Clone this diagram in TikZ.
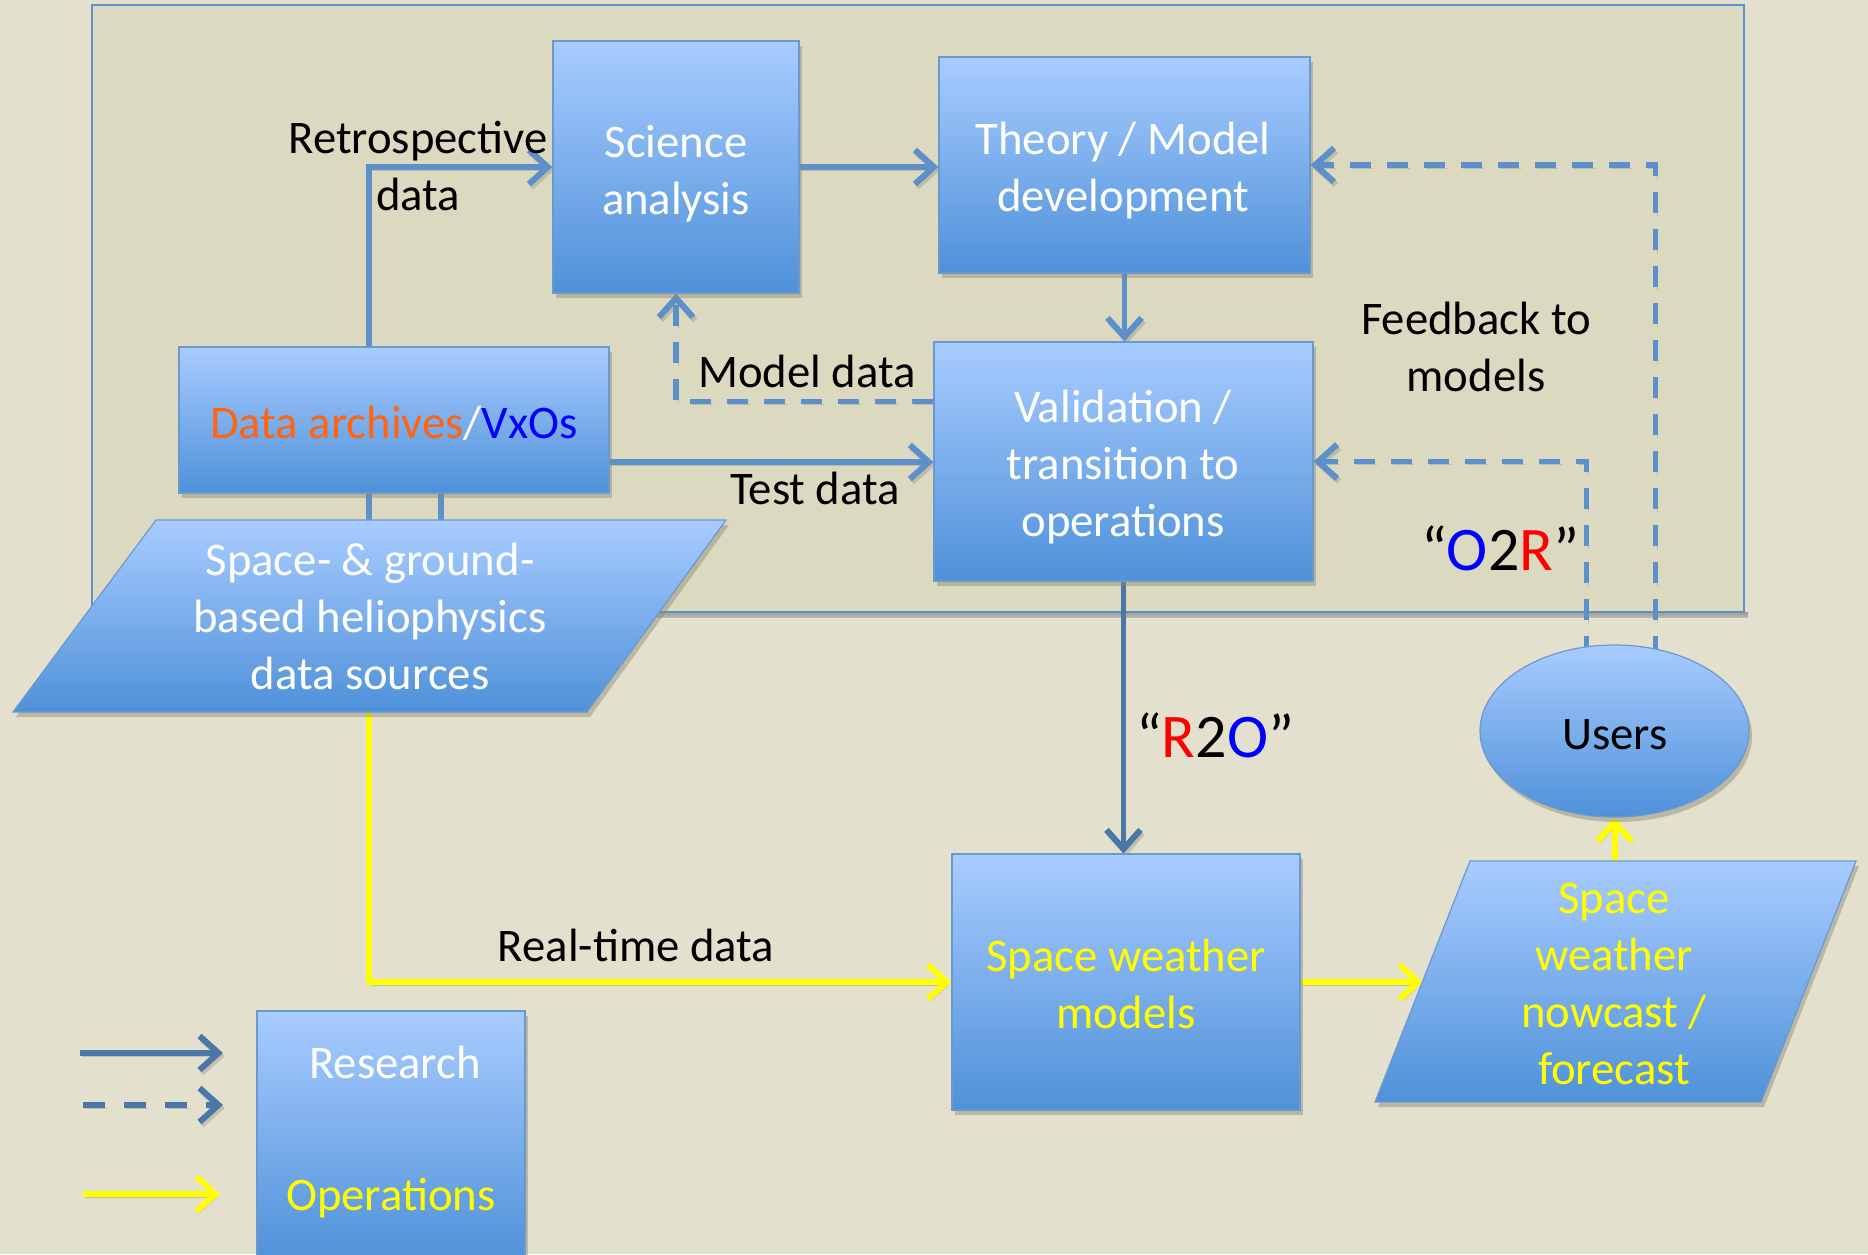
\documentclass[tikz,border=0pt]{standalone}
\usepackage{fontspec}
\setmainfont{Carlito}
\usetikzlibrary{arrows.meta,shapes.geometric}

\definecolor{bgout}{HTML}{E3E0CD}
\definecolor{panel}{HTML}{DBD9C0}
\definecolor{frame}{HTML}{5E90D0}
\definecolor{boxtop}{HTML}{A8CCFF}
\definecolor{boxbot}{HTML}{4F91D9}
\definecolor{boxline}{HTML}{6A99D2}
\definecolor{arrowblue}{HTML}{5D8FCA}
\definecolor{arrowdark}{HTML}{4A77A8}
\definecolor{opyellow}{HTML}{FFFF00}
\definecolor{archorange}{HTML}{FF6411}
\definecolor{vxoblue}{HTML}{0000FF}
\definecolor{rred}{HTML}{FF0000}
\definecolor{shade}{HTML}{8A8770}

\pgfdeclarelayer{back}
\pgfdeclarelayer{wires}
\pgfsetlayers{back,wires,main}

\tikzset{
  softshadow/.style={preaction={fill=shade, fill opacity=0.45, transform canvas={xshift=3pt,yshift=-5pt}}},
  wireshadow/.style={preaction={draw=shade, draw opacity=0.35, transform canvas={xshift=2pt,yshift=-3pt}}},
  dashshadow/.style={preaction={draw=shade, draw opacity=0.35, dash pattern=#1,
    transform canvas={xshift=2pt,yshift=-3pt}}, dash pattern=#1},
  boxfill/.style={softshadow, top color=boxtop, bottom color=boxbot, draw=boxline, line width=1.2pt},
  block/.style={boxfill, rectangle, inner sep=0pt},
  txt/.style={font=\fontsize{46.7pt}{57pt}\selectfont, align=center, inner sep=0pt},
  wtxt/.style={txt, text=white},
  ytxt/.style={txt, text=opyellow},
  btxt/.style={txt, text=black},
  bigtxt/.style={font=\fontsize{62pt}{76pt}\selectfont, inner sep=0pt, anchor=base},
  arr/.style={-{Straight Barb[length=19pt,width=34pt,line width=6pt]}},
  res/.style={wireshadow, draw=arrowblue, line width=5.5pt},
  resdark/.style={wireshadow, draw=arrowdark, line width=5.5pt},
  resdash/.style={dashshadow={on 21pt off 16pt}, draw=arrowblue, line width=5.5pt},
  ops/.style={wireshadow, draw=opyellow, line width=6pt},
}

\begin{document}
\begin{tikzpicture}[x=1pt,y=-1pt]
\useasboundingbox (0,0) rectangle (1868,1254);

% background and research panel
\begin{pgfonlayer}{back}
  \fill[bgout] (0,0) rectangle (1868,1254);
  \fill[shade, opacity=0.25] (96,612) rectangle (1748,618);
  \filldraw[fill=panel, draw=frame, line width=2pt] (92,5) rectangle (1744,612);
\end{pgfonlayer}

% boxes
\node[block, minimum width=246pt, minimum height=252pt] (sci) at (676,167) {};
\node[block, minimum width=371pt, minimum height=216pt] (theo) at (1124.5,165) {};
\node[block, minimum width=379pt, minimum height=239pt] (val) at (1123.5,461.5) {};
\node[block, minimum width=430pt, minimum height=146pt] (arch) at (394,420) {};
\node[block, minimum width=348pt, minimum height=256pt] (swm) at (1126,982) {};
\node[block, minimum width=268pt, minimum height=251pt] (legend) at (391,1136.5) {};
\node[boxfill, ellipse, inner sep=0pt, minimum width=269pt, minimum height=172pt] (users) at (1614.5,731) {};

% data sources and nowcast/forecast parallelograms
\path[boxfill] (156,520) -- (726,520) -- (587,712) -- (13,712) -- cycle;
\coordinate (srcTopA) at (369,520);
\coordinate (srcTopB) at (441,520);
\coordinate (srcBot) at (369,712);
\path[boxfill] (1470,861) -- (1856,861) -- (1761,1102) -- (1375,1102) -- cycle;
\coordinate (fcTop) at (1614.5,861);
\coordinate (fcLeft) at (1423,982);

% box texts
\node[wtxt] (scit) at (676,175) {\strut Science\\\strut analysis};
\node[wtxt] (theot) at (1123,172) {\strut Theory / Model\\\strut development};
\node[wtxt] (valt) at (1123,468) {\strut Validation /\\\strut transition to\\\strut operations};
\node[wtxt, anchor=base] (archt) at (394,438)
  {{\color{archorange}Data archives}/{\color{vxoblue}VxOs}};
\node[wtxt] (srct) at (370,621) {\strut Space- \& ground-\\\strut based heliophysics\\\strut data sources};
\node[ytxt] (swmt) at (1126,989) {\strut Space weather\\\strut models};
\node[ytxt] (fct) at (1614,988) {\strut Space\\\strut weather\\\strut nowcast /\\\strut forecast};
\node[btxt, anchor=base] (userst) at (1615,749) {Users};

% connector labels
\node[btxt] (retrol) at (418,171) {\strut Retrospective\\\strut data};
\node[btxt, anchor=base] (mdll) at (807,387) {Model data};
\node[btxt, anchor=base] (tstl) at (815,504) {Test data};
\node[btxt] (fbl) at (1476,352) {\strut Feedback to\\\strut models};
\node[btxt, anchor=base] (rtl) at (636,961) {Real-time data};
\node[bigtxt] (r2ol) at (1215,757) {“{\color{rred}R}2{\color{vxoblue}O}”};
\node[bigtxt] (o2rl) at (1500,570) {“{\color{vxoblue}O}2{\color{rred}R}”};

% legend
\node[wtxt, anchor=base] (lres) at (395,1078) {Research};
\node[ytxt, anchor=base] (lops) at (391,1210) {Operations};
\coordinate (lgA1) at (80,1053);  \coordinate (lgA2) at (223,1053);
\coordinate (lgB1) at (83,1105);  \coordinate (lgB2) at (223,1105);
\coordinate (lgC1) at (83,1194);  \coordinate (lgC2) at (220,1194);

% connectors
\begin{pgfonlayer}{wires}
  \draw[res, arr] ([xshift=-25pt]arch.north) |- (sci.west);
  \draw[res, arr] (sci.east) -- (sci.east -| theo.west);
  \draw[res, arr] (theo.south) -- (theo.south |- val.north);
  \draw[resdash, arr] ([yshift=60pt]val.west) -| (sci.south);
  \draw[res, arr] ([yshift=-42pt]arch.east) -- ([yshift=-42pt]arch.east -| val.west);
  \draw[res] ([xshift=-25pt]arch.south) -- (srcTopA);
  \draw[res] ([xshift=47pt]arch.south) -- (srcTopB);
  \draw[resdark, arr] (val.south) -- (val.south |- swm.north);
  \draw[ops, arr] (srcBot) |- (swm.west);
  \draw[ops, arr] (swm.east) -- (fcLeft);
  \draw[ops, arr] (fcTop) -- (users.south);
  \draw[resdash, arr] ([xshift=41pt]users.center) |- (theo.east);
  \draw[resdash, arr] ([xshift=-28pt]users.center) |- (val.east);
  % legend samples
  \draw[resdark, arr] (lgA1) -- (lgA2);
  \draw[arr, dashshadow={on 22pt off 19pt}, draw=arrowdark, line width=5.5pt] (lgB1) -- (lgB2);
  \draw[ops, arr] (lgC1) -- (lgC2);
\end{pgfonlayer}
\end{tikzpicture}
\end{document}
